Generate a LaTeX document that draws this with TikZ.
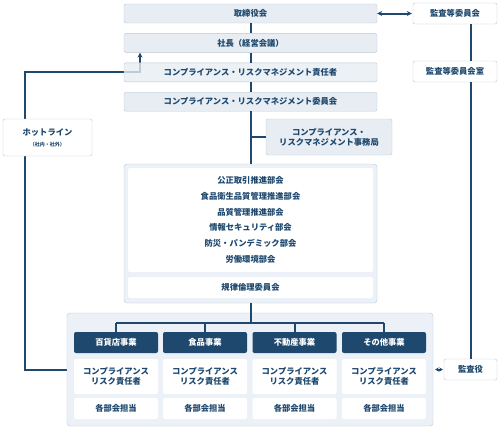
\documentclass[tikz,border=0pt]{standalone}
\usepackage{fontspec}
\setmainfont{Noto Sans CJK JP}
\usetikzlibrary{positioning, arrows.meta, backgrounds}

\definecolor{navy}{RGB}{30,72,110}
\definecolor{boxfill}{RGB}{231,237,243}
\definecolor{boxline}{RGB}{186,199,212}
\definecolor{panelfill}{RGB}{235,241,247}

\begin{document}
\begin{tikzpicture}[
                x=1pt, y=-1pt, % 一个单位 = 一个像素
                every node/.style={
                    inner sep=0, % 内边距为 0
                    text=navy, % 文字颜色
                    font=\bfseries\fontsize{8.3}{10}\selectfont % 字体大小
                },
                graybox/.style={draw=boxline, fill=boxfill, rounded corners=2pt,
                    minimum width=253, minimum height=19}, % 灰色长条
                whitebox/.style={draw=boxline, fill=white, rounded corners=2pt,
                    minimum width=84, minimum height=21}, % 白色方框
                panel/.style={draw=boxline, fill=panelfill, rounded corners=3pt}, % 外框
                headbox/.style={fill=navy, text=white, rounded corners=2pt,
                    minimum width=84, minimum height=21}, % 事业标题
                cellbox/.style={fill=white, rounded corners=2pt,
                    minimum width=84, minimum height=21}, % 白色格子
                link/.style={draw=navy, line width=2pt}, % 连线
                tip/.style={-{Stealth[length=5pt,width=5pt]}}, % 单箭头
                both/.style={{Stealth[length=5pt,width=5pt]}-{Stealth[length=5pt,width=5pt]}} % 双箭头
            ]

            \useasboundingbox (0,0) rectangle (501,431);

            % 中间一列
            \node[graybox] (board) at (250.5,13.5) {取締役会};
            \node[graybox, below=10pt of board] (pres) {社長（経営会議）};
            \node[graybox, below=10pt of pres, fill opacity=0.8, text opacity=1] (officer)
                {コンプライアンス・リスクマネジメント責任者};
            \node[graybox, below=10pt of officer] (comm)
                {コンプライアンス・リスクマネジメント委員会};
            \node[graybox, minimum width=126, minimum height=36, align=center] (office)
                at (329,137) {コンプライアンス・\\リスクマネジメント事務局};

            % 部会
            \node[panel, minimum width=253, minimum height=139] (sub) at (250.5,233.5) {};
            \node[fill=white, rounded corners=2pt, minimum width=245, minimum height=104,
                align=center, font=\bfseries\fontsize{8.3}{15.7}\selectfont] (subs) at (250.5,220)
                {公正取引推進部会\\食品衛生品質管理推進部会\\品質管理推進部会\\
                 情報セキュリティ部会\\防災・パンデミック部会\\労働環境部会};
            \node[fill=white, rounded corners=2pt, minimum width=245, minimum height=21]
                (ethics) at (250.5,287.5) {規律倫理委員会};

            % 左右两侧
            \node[whitebox, minimum width=89, minimum height=37, align=center] (hot) at (47.5,137.5)
                {ホットライン\\[1pt]{\fontsize{5}{6}\selectfont （社内・社外）}};
            \node[whitebox] (audcom) at (455,13.5) {監査等委員会};
            \node[whitebox] (room) at (455,71.5) {監査等委員会室};
            \node[whitebox, minimum width=53] (audit) at (470.5,369.5) {監査役};

            % 各事业
            \node[panel, minimum width=366, minimum height=113] (biz) at (250,369.5) {};
            \coordinate (split) at (250.5,323);
            \foreach \i/\x/\name in {1/116/百貨店事業, 2/205/食品事業, 3/294.5/不動産事業, 4/384/その他事業} {
                \node[headbox] (h\i) at (\x,342.5) {\name};
                \node[cellbox, minimum height=35, align=center] (r\i) at (\x,376.5)
                    {コンプライアンス\\リスク責任者};
                \node[cellbox] (p\i) at (\x,408.5) {各部会担当};
                \draw[link] (h\i.north |- split) -- (h\i);
            }

            % 连线
            \draw[link] (board) -- (pres);
            \draw[link] (pres) -- (officer);
            \draw[link] (officer) -- (comm);
            \draw[link] (comm) -- (sub);
            \draw[link] (comm.south |- office) -- (office);
            \draw[link] (sub) -- (split);
            \draw[link] (h1.north |- split) -- (h4.north |- split);
            \draw[link, both, shorten >=1pt] (board) -- (audcom);
            \draw[link, {Stealth[length=3.5pt,width=4pt]}-{Stealth[length=3.5pt,width=4pt]},
                shorten <=2pt, shorten >=1pt] (biz.east |- audit) -- (audit);
            \draw[link] (audit.north |- audcom.south) -- (audit.north |- room.north);
            \draw[link] (audit.north |- room.south) -- (audit);

            % 举报热线
            \coordinate (hlleft) at (25,0);
            \coordinate (hltop) at (140,0);
            \begin{scope}[on background layer]
                \draw[link, tip] (biz.west |- audit) -| (hlleft |- officer)
                    -- (hltop |- officer) -- (hltop |- pres.south);
            \end{scope}
            \end{tikzpicture}
\end{document}
